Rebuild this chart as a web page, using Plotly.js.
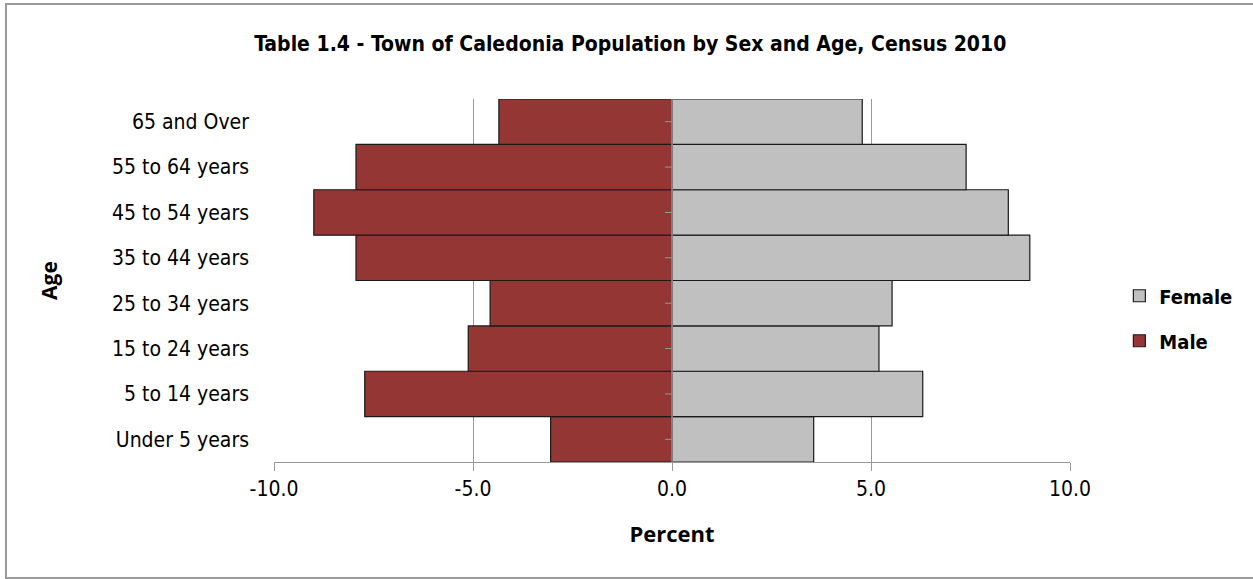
<!DOCTYPE html>
<html>
<head>
<meta charset="utf-8">
<script src="https://cdn.plot.ly/plotly-3.0.1.min.js"></script>
<style>
  html, body { margin: 0; padding: 0; background: #fff; overflow: hidden; }
  #chart { width: 1253px; height: 579px; }
  #frame { position: absolute; left: 5px; top: 3px; width: 1260px; height: 576px; border: 2px solid #9a9a9a; pointer-events: none; box-sizing: border-box; }
</style>
</head>
<body>
<div id="chart"></div>
<div id="frame"></div>
<script>
const ageGroups = ["Under 5 years", "5 to 14 years", "15 to 24 years", "25 to 34 years", "35 to 44 years", "45 to 54 years", "55 to 64 years", "65 and Over"];
const malePct = [-3.05, -7.72, -5.12, -4.57, -7.94, -9.0, -7.94, -4.35];
const femalePct = [3.56, 6.3, 5.2, 5.53, 8.99, 8.45, 7.39, 4.78];
const xTicks = [-10, -5, 0, 5, 10];
const xTickLabels = ["-10.0", "-5.0", "0.0", "5.0", "10.0"];

const narrow = '"DejaVu Sans Condensed", "Liberation Sans", sans-serif';
const bold2 = '"Open Sans", "Noto Sans", sans-serif';

const traces = [
  {
    type: 'bar', orientation: 'h', name: 'Female',
    y: ageGroups, x: femalePct,
    marker: { color: '#c0c0c0', line: { color: '#1a1a1a', width: 1.2 } },
    legend: 'legend'
  },
  {
    type: 'bar', orientation: 'h', name: 'Male',
    y: ageGroups, x: malePct,
    marker: { color: '#943634', line: { color: '#1a1a1a', width: 1.2 } },
    legend: 'legend2'
  }
];

// small tick marks on the zero line at each category centre
const zeroTicks = ageGroups.map(g => ({
  type: 'line', xref: 'x', yref: 'y', xsizemode: 'pixel', xanchor: 0,
  x0: -7, x1: 0, y0: g, y1: g, line: { color: '#999', width: 1 }, layer: 'above'
}));

const layout = {
  width: 1253, height: 579,
  margin: { l: 274, r: 183, t: 99, b: 117 },
  paper_bgcolor: '#fff', plot_bgcolor: '#fff',
  barmode: 'overlay', bargap: 0,
  title: {
    text: '<b>Table 1.4 - Town of Caledonia Population by Sex and Age, Census 2010</b>',
    font: { family: narrow, size: 21, color: '#000' },
    x: 0.503, xanchor: 'center', y: 0.925, yanchor: 'middle'
  },
  xaxis: {
    range: [-10, 10], tickvals: xTicks, ticktext: xTickLabels,
    showgrid: true, gridcolor: '#999', gridwidth: 1,
    zeroline: false,
    showline: true, linecolor: '#999', linewidth: 1,
    ticks: 'outside', ticklen: 8, tickcolor: '#999',
    tickfont: { family: narrow, size: 21, color: '#000' },
    title: { text: '<b>Percent</b>', font: { family: bold2, size: 22, color: '#000' }, standoff: 26 }
  },
  yaxis: {
    type: 'category', categoryorder: 'array', categoryarray: ageGroups,
    showgrid: false, zeroline: false, showline: false, ticks: '',
    tickfont: { family: narrow, size: 21, color: '#000' },
    ticklabelstandoff: 24,
    title: { text: '<b>Age</b>', font: { family: bold2, size: 21, color: '#000' }, standoff: 48 }
  },
  showlegend: true,
  legend: {
    x: 1.062, xanchor: 'left', y: 0.458, yanchor: 'middle',
    font: { family: narrow, size: 20, color: '#000', weight: 'bold' },
    bgcolor: 'rgba(0,0,0,0)', itemwidth: 30
  },
  legend2: {
    x: 1.062, xanchor: 'left', y: 0.334, yanchor: 'middle',
    font: { family: narrow, size: 20, color: '#000', weight: 'bold' },
    bgcolor: 'rgba(0,0,0,0)', itemwidth: 30
  },
  shapes: [
    { type: 'line', xref: 'x', yref: 'paper', x0: 0, x1: 0, y0: 0, y1: 1, line: { color: '#999', width: 1.5 }, layer: 'above' }
  ].concat(zeroTicks)
};

Plotly.newPlot('chart', traces, layout, { staticPlot: true, displayModeBar: false });
</script>
</body>
</html>
